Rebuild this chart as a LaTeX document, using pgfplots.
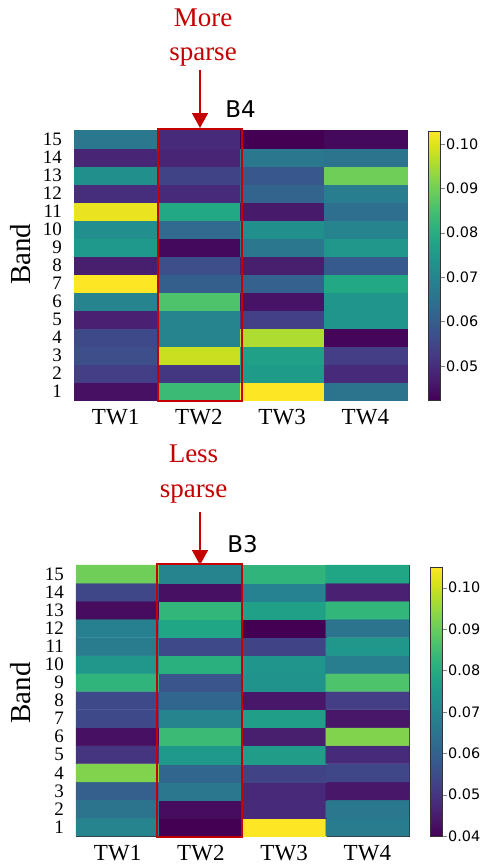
\documentclass[border=0pt]{standalone}
\usepackage{pgfplots}
\pgfplotsset{compat=1.18}
\usepackage{pgfplotstable}
\usetikzlibrary{arrows.meta}
\usepackage{fontspec}
\setmainfont{Liberation Serif}
\newfontfamily\dejavu{DejaVu Sans}
\definecolor{sred}{RGB}{196,0,0}

\pgfplotstableread{
x y c
1 1 0.0447
2 1 0.0835
3 1 0.1029
4 1 0.0653
1 2 0.0532
2 2 0.0520
3 2 0.0756
4 2 0.0496
1 3 0.0568
2 3 0.0980
3 3 0.0768
4 3 0.0532
1 4 0.0556
2 4 0.0696
3 4 0.0956
4 4 0.0429
1 5 0.0478
2 5 0.0696
3 5 0.0538
4 5 0.0738
1 6 0.0696
2 6 0.0860
3 6 0.0453
4 6 0.0738
1 7 0.1029
2 7 0.0605
3 7 0.0610
4 7 0.0787
1 8 0.0471
2 8 0.0568
3 8 0.0471
4 8 0.0593
1 9 0.0750
2 9 0.0435
3 9 0.0665
4 9 0.0744
1 10 0.0720
2 10 0.0630
3 10 0.0726
4 10 0.0696
1 11 0.1010
2 11 0.0787
3 11 0.0465
4 11 0.0640
1 12 0.0502
2 12 0.0496
3 12 0.0617
4 12 0.0678
1 13 0.0726
2 13 0.0544
3 13 0.0587
4 13 0.0896
1 14 0.0484
2 14 0.0484
3 14 0.0665
4 14 0.0653
1 15 0.0665
2 15 0.0496
3 15 0.0423
4 15 0.0435
}\dataA

\pgfplotstableread{
x y c
1 1 0.0693
2 1 0.0400
3 1 0.1050
4 1 0.0667
1 2 0.0647
2 2 0.0420
3 2 0.0478
4 2 0.0660
1 3 0.0595
2 3 0.0660
3 3 0.0472
4 3 0.0439
1 4 0.0927
2 4 0.0615
3 4 0.0530
4 4 0.0537
1 5 0.0498
2 5 0.0751
3 5 0.0758
4 5 0.0478
1 6 0.0426
2 6 0.0842
3 6 0.0452
4 6 0.0927
1 7 0.0543
2 7 0.0693
3 7 0.0764
4 7 0.0439
1 8 0.0543
2 8 0.0615
3 8 0.0439
4 8 0.0517
1 9 0.0823
2 9 0.0569
3 9 0.0732
4 9 0.0868
1 10 0.0745
2 10 0.0810
3 10 0.0738
4 10 0.0673
1 11 0.0667
2 11 0.0543
3 11 0.0530
4 11 0.0745
1 12 0.0680
2 12 0.0784
3 12 0.0400
4 12 0.0647
1 13 0.0420
2 13 0.0829
3 13 0.0770
4 13 0.0829
1 14 0.0537
2 14 0.0426
3 14 0.0686
4 14 0.0459
1 15 0.0907
2 15 0.0693
3 15 0.0823
4 15 0.0784
}\dataB

\pgfplotsset{
  hm/.style={
    scale only axis,
    width=333pt,
    xmin=0.5, xmax=4.5, ymin=0.5, ymax=15.5,
    xtick={1,2,3,4},
    xticklabels={TW1,TW2,TW3,TW4},
    ytick={1,...,15},
    major tick length=0pt,
    axis line style={black!80, line width=0.6pt},
    xticklabel style={font=\fontsize{23}{26}\selectfont, anchor=base, inner sep=0pt, yshift=-24pt},
    yticklabel style={font=\fontsize{19}{19}\selectfont, anchor=east, inner sep=0pt, xshift=-12pt},
    /pgf/number format/assume math mode=true,
    ylabel={Band},
    ylabel style={font=\fontsize{29}{32}\selectfont, anchor=center},
    title style={font=\dejavu\fontsize{23}{26}\selectfont, anchor=base, at={(0.5,1)}, yshift=7pt},
    colormap name=viridis,
    colorbar,
    clip=false,
  },
  cb/.style={
    scale only axis,
    at={(parent axis.north east)}, anchor=north west, xshift=13pt,
    width=12pt, height=269pt,
    ytick pos=right, tick align=outside, major tick length=4pt,
    axis line style={black!80, line width=0.5pt},
    yticklabel style={font=\dejavu\fontsize{14.4}{16}\selectfont, inner sep=1.5pt,
      /pgf/number format/.cd, fixed, fixed zerofill, precision=2, assume math mode=true},
  },
}

\begin{document}
\begin{tikzpicture}
\useasboundingbox (0pt,0pt) rectangle (481pt,-867pt);

% ---------- top: B4 ----------
\begin{axis}[hm,
  at={(74pt,-400pt)}, anchor=south west,
  height=270pt,
  title={B4},
  ylabel style={at={(rel axis cs:-0.159,0.54)}},
  point meta min=0.0423, point meta max=0.1029,
  colorbar style={cb, yshift=-1pt,
    ytick={0.05,0.06,0.07,0.08,0.09,0.10}},
]
\addplot[matrix plot*, mesh/cols=4, point meta=explicit] table[x=x, y=y, meta=c] {\dataA};
\end{axis}

% ---------- bottom: B3 ----------
\begin{axis}[hm,
  at={(76pt,-836pt)}, anchor=south west,
  height=271pt,
  title={B3},
  ylabel style={at={(rel axis cs:-0.165,0.528)}},
  point meta min=0.04, point meta max=0.105,
  colorbar style={cb, yshift=-2pt,
    ytick={0.04,0.05,0.06,0.07,0.08,0.09,0.10}},
]
\addplot[matrix plot*, mesh/cols=4, point meta=explicit] table[x=x, y=y, meta=c] {\dataB};
\end{axis}

% ---------- annotations ----------
\draw[sred, line width=2.4pt] (158pt,-129pt) rectangle (242pt,-401pt);
\draw[sred, line width=2.4pt] (157pt,-564pt) rectangle (242pt,-837pt);

\draw[sred, line width=1.6pt, -{Triangle[width=16pt, length=15pt]}] (200pt,-70pt) -- (200pt,-128pt);
\draw[sred, line width=1.6pt, -{Triangle[width=16pt, length=15pt]}] (200pt,-512pt) -- (200pt,-565pt);

\node[anchor=base, text=sred, font=\fontsize{27}{32}\selectfont, inner sep=0pt] at (203pt,-27pt) {More};
\node[anchor=base, text=sred, font=\fontsize{27}{32}\selectfont, inner sep=0pt] at (203pt,-61pt) {sparse};
\node[anchor=base, text=sred, font=\fontsize{27}{32}\selectfont, inner sep=0pt] at (193.5pt,-462pt) {Less};
\node[anchor=base, text=sred, font=\fontsize{27}{32}\selectfont, inner sep=0pt] at (193.5pt,-497pt) {sparse};
\end{tikzpicture}
\end{document}
